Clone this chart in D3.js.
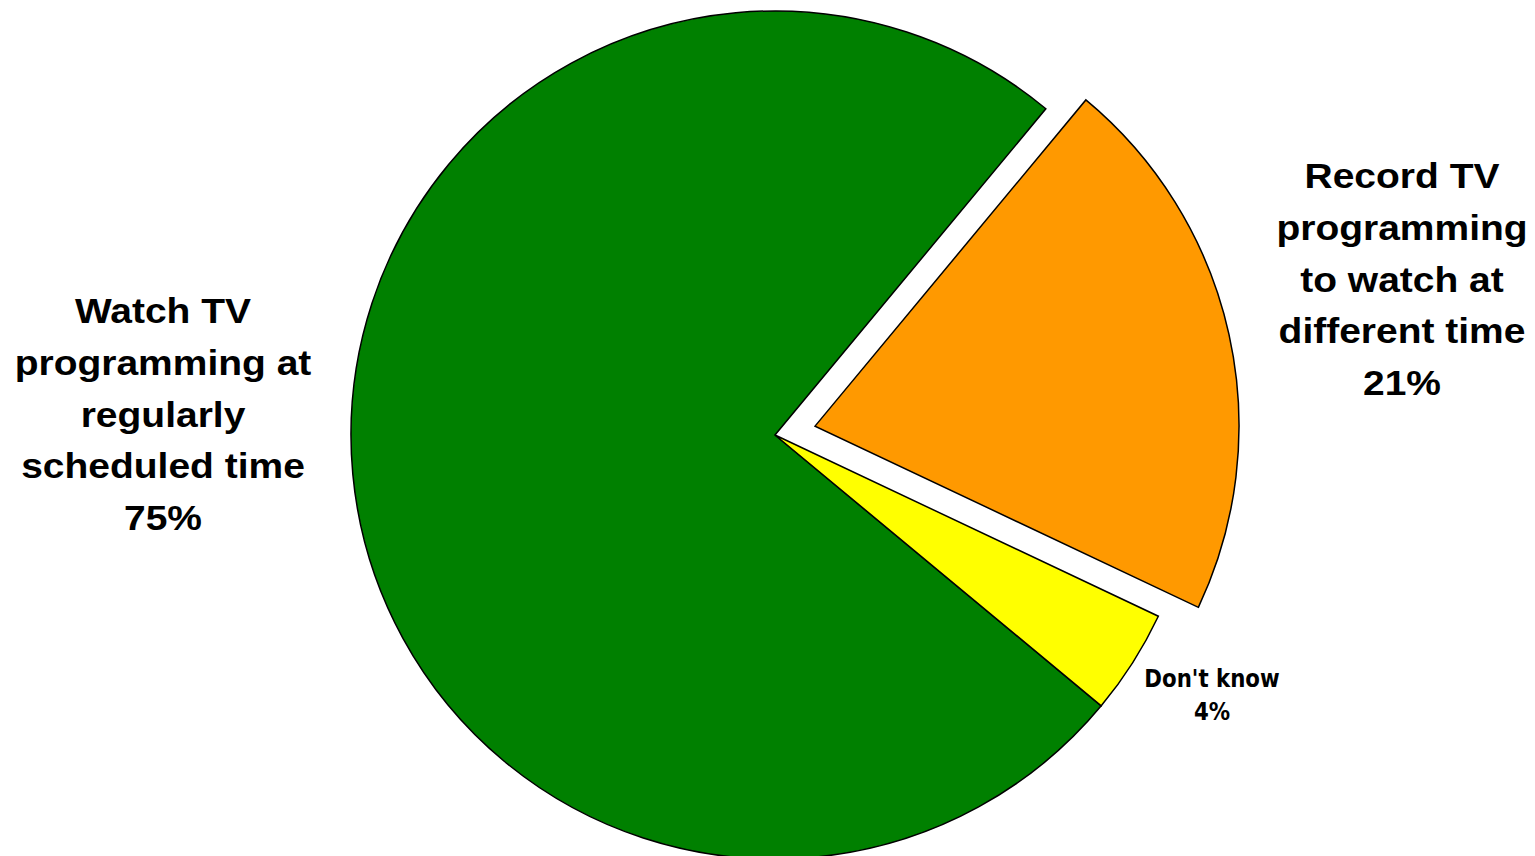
<!DOCTYPE html>
<html>
<head>
<meta charset="utf-8">
<script src="https://cdn.jsdelivr.net/npm/d3@7"></script>
<style>
    body { margin: 0; background: #ffffff; }
    svg { display: block; }
    .bigLabel { font-family: "Liberation Sans", Arial, sans-serif; font-weight: bold; fill: #000000; }
    .smallLabel { font-family: "DejaVu Sans", Verdana, sans-serif; font-weight: bold; fill: #000000; }
</style>
</head>
<body>
<div id="pie"></div>
<script>

//- Chart Data
const categories = ["Watch TV programming at regularly scheduled time", "Record TV programming to watch at different time", "Don't know"];
const shares = [75, 21, 4];
const sliceColors = ["#008000", "#FF9900", "#FFFF00"];
const explodedSlices = [false, true, false];

//- Label text, one array of lines per slice
const labelLines = [
    ["Watch TV", "programming at", "regularly", "scheduled time", "75%"],
    ["Record TV", "programming", "to watch at", "different time", "21%"],
    ["Don't know", "4%"]
];

//- Layout
const SVGWIDTH = 1535;
const SVGHEIGHT = 856;
const PIECENTER = { x: 775, y: 435 };
const PIERADIUS = 424;
const EXPLODEDISTANCE = 41;
const STARTANGLE = 129.7 * Math.PI / 180;   // first slice starts at about 4 o'clock

const labelInfo = [
    { x: 163, y: 323, size: 34.5, stretch: 1.13, gap: 51.8, cls: "bigLabel" },
    { x: 1402, y: 188, size: 34.5, stretch: 1.13, gap: 51.8, cls: "bigLabel" },
    { x: 1212, y: 687, size: 24.5, stretch: 0.87, gap: 33, cls: "smallLabel" }
];


let svgContainer = d3.select("#pie").append("svg")
    .attr("width", SVGWIDTH)
    .attr("height", SVGHEIGHT);

let pieGroup = svgContainer.append("g")
    .attr("transform", `translate(${PIECENTER.x}, ${PIECENTER.y})`);

let pie = d3.pie()
    .sort(null)
    .value(d => d)
    .startAngle(STARTANGLE)
    .endAngle(STARTANGLE + 2 * Math.PI);

let arc = d3.arc()
    .innerRadius(0)
    .outerRadius(PIERADIUS);

let pieData = pie(shares);

//- Create Slices
pieGroup.selectAll("path")
    .data(pieData)
    .enter()
    .append("path")
    .attr("d", arc)
    .attr("transform", (d, i) => {
        if (!explodedSlices[i]) return null;
        let mid = (d.startAngle + d.endAngle) / 2;
        return `translate(${EXPLODEDISTANCE * Math.sin(mid)}, ${-EXPLODEDISTANCE * Math.cos(mid)})`;
    })
    .attr("fill", (d, i) => sliceColors[i])
    .attr("stroke", "#000000")
    .attr("stroke-width", 1.5)
    .attr("stroke-linejoin", "miter");


//- Create Labels
let labelGroup = svgContainer.append("g");

labelLines.forEach((lines, i) => {
    let info = labelInfo[i];

    let textGroup = labelGroup.append("g")
        .attr("transform", `translate(${info.x}, ${info.y}) scale(${info.stretch}, 1)`);

    textGroup.selectAll("text")
        .data(lines)
        .enter()
        .append("text")
        .attr("class", info.cls)
        .attr("x", 0)
        .attr("y", (d, j) => j * info.gap)
        .attr("text-anchor", "middle")
        .style("font-size", `${info.size}px`)
        .text(d => d);
});

</script>
</body>
</html>
